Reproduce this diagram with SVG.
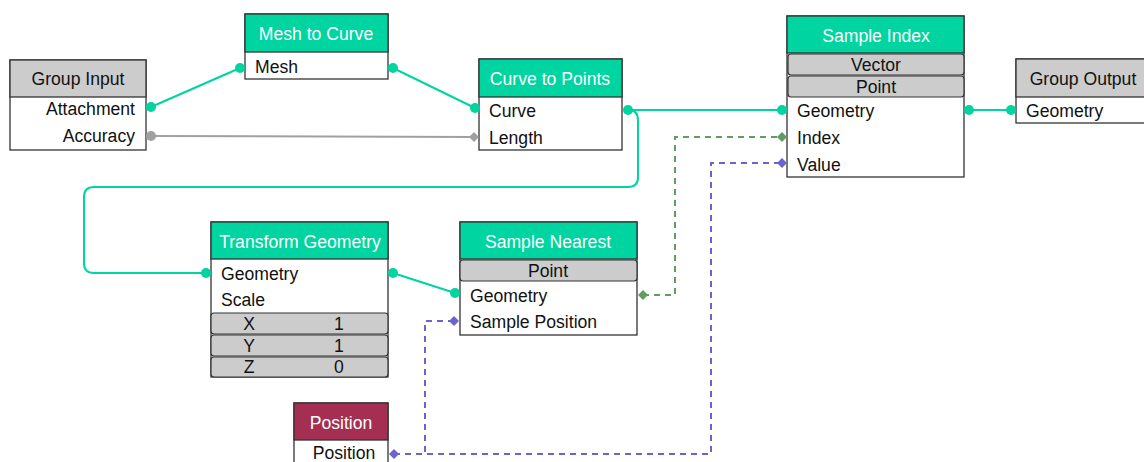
<svg xmlns="http://www.w3.org/2000/svg" width="1144" height="462" viewBox="0 0 1144 462">
<style>
.box{fill:#fff;stroke:#333;stroke-width:1.3}
.hd{stroke:#333;stroke-width:1.3}
.teal{fill:#00d4a0}
.gray{fill:#cccccc}
.pos{fill:#a52f52}
.opt{fill:#cccccc;stroke:#333;stroke-width:1.2}
text{font-family:"Liberation Sans",Arial,sans-serif;font-size:17.6px;fill:#111}
.ht{fill:#fff;text-anchor:middle}
.gt{fill:#111;text-anchor:middle}
.c{text-anchor:middle}
.r{text-anchor:end}
.w{fill:none;stroke:#00d4a0;stroke-width:2}
.g{fill:none;stroke:#a0a0a0;stroke-width:2}
.dg{fill:none;stroke:#5f9d60;stroke-width:2;stroke-dasharray:6 5}
.dp{fill:none;stroke:#6a64cc;stroke-width:2;stroke-dasharray:6 5}
.st{fill:#00d4a0}
.sg{fill:#a0a0a0}
.sgr{fill:#5f9d60}
.sp{fill:#6a64cc}
</style>
<g id="connectors">
<path class="w" d="M151,107 L240,68"/>
<path class="w" d="M393,68 L475,108"/>
<path class="g" d="M151,136 L474,137"/>
<path class="w" d="M628,110 H782"/>
<path class="w" d="M628,110 H628 Q638,110 638,120 V177 Q638,187 628,187 H94 Q84,187 84,197 V263 Q84,273 94,273 H206"/>
<path class="w" d="M393,273 L455,293"/>
<path class="dg" d="M643,295 H675 V137 H782"/>
<path class="dp" d="M394,454 H425 V321 H454"/>
<path class="dp" d="M394,454 H711 V163 H782"/>
<path class="w" d="M969,110 H1011"/>
</g>
<g id="group-input">
<rect class="box" x="10" y="60" width="136" height="90"/>
<rect class="gray hd" x="10" y="60" width="136" height="37"/>
<text class="gt" x="78" y="85">Group Input</text>
<text class="r" x="135" y="115">Attachment</text>
<text class="r" x="135" y="142">Accuracy</text>
<circle class="st" cx="151" cy="107" r="5"/>
<circle class="sg" cx="151" cy="136" r="5"/>
</g>
<g id="mesh-to-curve">
<rect class="box" x="245" y="14" width="143" height="65"/>
<rect class="teal hd" x="245" y="14" width="143" height="38"/>
<text class="ht" x="316" y="40">Mesh to Curve</text>
<text x="255" y="73">Mesh</text>
<circle class="st" cx="240" cy="68" r="5"/>
<circle class="st" cx="393" cy="68" r="5"/>
</g>
<g id="curve-to-points">
<rect class="box" x="479" y="59" width="143" height="91"/>
<rect class="teal hd" x="479" y="59" width="143" height="38"/>
<text class="ht" x="550" y="85">Curve to Points</text>
<text x="489" y="117">Curve</text>
<text x="489" y="144">Length</text>
<circle class="st" cx="475" cy="108" r="5"/>
<path class="sg" d="M474,132 L479,137 L474,142 L469,137 Z"/>
<circle class="st" cx="628" cy="110" r="5"/>
</g>
<g id="sample-index">
<rect class="box" x="787" y="16" width="177" height="161"/>
<rect class="teal hd" x="787" y="16" width="177" height="37"/>
<text class="ht" x="876" y="42">Sample Index</text>
<rect class="opt" x="788" y="54" width="176" height="21" rx="3"/>
<text class="c" x="876" y="71">Vector</text>
<rect class="opt" x="788" y="76" width="176" height="21" rx="3"/>
<text class="c" x="876" y="93">Point</text>
<text x="797" y="117">Geometry</text>
<text x="797" y="144">Index</text>
<text x="797" y="171">Value</text>
<circle class="st" cx="782" cy="110" r="5"/>
<path class="sgr" d="M782,132 L787,137 L782,142 L777,137 Z"/>
<path class="sp" d="M782,158 L787,163 L782,168 L777,163 Z"/>
<circle class="st" cx="969" cy="110" r="5"/>
</g>
<g id="group-output">
<rect class="box" x="1016" y="59" width="134" height="64"/>
<rect class="gray hd" x="1016" y="59" width="134" height="38"/>
<text class="gt" x="1083" y="85">Group Output</text>
<text x="1026" y="117">Geometry</text>
<circle class="st" cx="1011" cy="110" r="5"/>
</g>
<g id="transform-geometry">
<rect class="box" x="211" y="222" width="177" height="155"/>
<rect class="teal hd" x="211" y="222" width="177" height="37"/>
<text class="ht" x="300" y="248">Transform Geometry</text>
<text x="221" y="280">Geometry</text>
<text x="221" y="306">Scale</text>
<rect class="opt" x="211" y="313" width="177" height="21" rx="3"/>
<text class="c" x="249" y="330">X</text>
<text class="c" x="339" y="330">1</text>
<rect class="opt" x="211" y="335" width="177" height="21" rx="3"/>
<text class="c" x="249" y="352">Y</text>
<text class="c" x="339" y="352">1</text>
<rect class="opt" x="211" y="357" width="177" height="20" rx="3"/>
<text class="c" x="249" y="373">Z</text>
<text class="c" x="339" y="373">0</text>
<circle class="st" cx="206" cy="273" r="5"/>
<circle class="st" cx="393" cy="273" r="5"/>
</g>
<g id="sample-nearest">
<rect class="box" x="460" y="222" width="177" height="113"/>
<rect class="teal hd" x="460" y="222" width="177" height="37"/>
<text class="ht" x="548" y="248">Sample Nearest</text>
<rect class="opt" x="460" y="260" width="177" height="21" rx="3"/>
<text class="c" x="548" y="277">Point</text>
<text x="470" y="302">Geometry</text>
<text x="470" y="328">Sample Position</text>
<circle class="st" cx="455" cy="293" r="5"/>
<path class="sp" d="M454,316 L459,321 L454,326 L449,321 Z"/>
<path class="sgr" d="M643,290 L648,295 L643,300 L638,295 Z"/>
</g>
<g id="position">
<rect class="box" x="294" y="403" width="94" height="70"/>
<rect class="pos hd" x="294" y="403" width="94" height="37"/>
<text class="ht" x="341" y="429">Position</text>
<text class="c" x="344" y="459">Position</text>
<path class="sp" d="M394,449 L399,454 L394,459 L389,454 Z"/>
</g>
</svg>
